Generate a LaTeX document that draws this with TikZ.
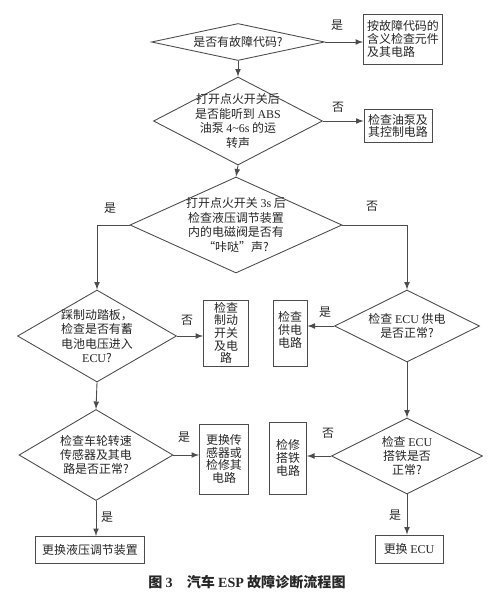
\documentclass[tikz,border=0pt]{standalone}
\usepackage{fontspec}
\setmainfont{Noto Sans CJK SC}
\newfontfamily\lat{Liberation Serif}
\usepackage{tikz}
\usetikzlibrary{shapes.geometric}

\begin{document}
\begin{tikzpicture}[x=0.2mm, y=-0.2mm, >=latex,
    every node/.style={font=\fontsize{6.8}{8.2}\selectfont, text=black!85},
    decide/.style={diamond, draw=black!70, line width=0.5pt, inner sep=0pt},
    act/.style={rectangle, draw=black!70, line width=0.5pt, align=center, inner sep=1pt,
        font=\fontsize{6.8}{7.2}\selectfont},
    ans/.style={inner sep=0pt},
    flow/.style={->, draw=black!70, line width=0.5pt}]
                \useasboundingbox (0, 0) rectangle (500, 597);
                % decisions
                \node[decide, minimum width=34.6mm, minimum height=7.4mm,
                    label={center:是否有故障代码?}] (code) at (238, 42) {};
                \node[decide, minimum width=33.8mm, minimum height=17.6mm,
                    label={[align=center]center:打开点火开关后\\是否能听到 {\lat ABS}\\油泵 {\lat 4\textasciitilde 6s} 的运\\转声}] (pump) at (238, 121) {};
                \node[decide, minimum width=42.4mm, minimum height=19.2mm,
                    label={[align=center]center:打开点火开关 {\lat 3s} 后\\检查液压调节装置\\内的电磁阀是否有\\“咔哒”声?}] (valve) at (236, 225) {};
                \node[decide, minimum width=31.8mm, minimum height=18.4mm,
                    label={[align=center]center:踩制动踏板，\\检查是否有蓄\\电池电压进入\\{\lat ECU}?}] (brake) at (97, 336) {};
                \node[decide, minimum width=29mm, minimum height=14.4mm,
                    label={[align=center]center:检查 {\lat ECU} 供电\\是否正常?}] (supply) at (407, 326) {};
                \node[decide, minimum width=30.8mm, minimum height=18.2mm,
                    label={[align=center]center:检查车轮转速\\传感器及其电\\路是否正常?}] (wheel) at (96, 455) {};
                \node[decide, minimum width=30.2mm, minimum height=15.2mm,
                    label={[align=center]center:检查 {\lat ECU}\\搭铁是否\\正常?}] (ground) at (407, 456) {};
                % actions
                \node[act, align=left, minimum width=15.8mm, minimum height=10mm] (chkcode) at (403, 39) {按故障代码的\\含义检查元件\\及其电路};
                \node[act, align=left, minimum width=13.6mm, minimum height=6.6mm] (chkpump) at (398, 126) {检查油泵及\\其控制电路};
                \node[act, minimum width=9mm, minimum height=13.2mm] (chkbrake) at (226, 333) {检查\\制动\\开关\\及电\\路};
                \node[act, minimum width=6.8mm, minimum height=13.2mm,
                    label={[align=center, anchor=north, yshift=-1.2mm, font=\fontsize{6.8}{7.2}\selectfont]north:检查\\供电\\电路}] (chksupply) at (290, 333) {};
                \node[act, minimum width=9.8mm, minimum height=14mm] (newsensor) at (224, 459) {更换传\\感器或\\检修其\\电路};
                \node[act, minimum width=7.4mm, minimum height=14.4mm,
                    label={[align=center, anchor=north, yshift=-2.4mm, font=\fontsize{6.8}{7.2}\selectfont]north:检修\\搭铁\\电路}] (fixground) at (288, 458) {};
                \node[act, minimum width=21.8mm, minimum height=5.4mm] (newunit) at (90, 550) {更换液压调节装置};
                \node[act, minimum width=13.6mm, minimum height=5.6mm] (newecu) at (409, 549) {更换 {\lat ECU}};
                % flow
                \draw[flow] (code.east) -- (code.east -| chkcode.west);
                \draw[flow] (code.south) -- (pump.north);
                \draw[flow] (pump.east) -- (pump.east -| chkpump.west);
                \draw[flow] (pump.south) -- (valve.north);
                \draw[flow] (valve.west) -| (brake.north);
                \draw[flow] (valve.east) -| (supply.north);
                \draw[flow] (brake.east) -- (brake.east -| chkbrake.west);
                \draw[flow] (supply.west) -- (supply.west -| chksupply.east);
                \draw[flow] (brake.south) -- (wheel.north);
                \draw[flow] (supply.south) -- (ground.north);
                \draw[flow] (wheel.east) -- (wheel.east -| newsensor.west);
                \draw[flow] (ground.west) -- (ground.west -| fixground.east);
                \draw[flow] (wheel.south) -- (wheel.south |- newunit.north);
                \draw[flow] (ground.south) -- (ground.south |- newecu.north);
                % answers
                \node[ans] (y1) at (337, 25) {是};
                \node[ans] (n1) at (338, 107) {否};
                \node[ans] (y2) at (110, 208) {是};
                \node[ans] (n2) at (372, 206) {否};
                \node[ans] (n3) at (187, 320) {否};
                \node[ans] (y3) at (325, 312) {是};
                \node[ans] (y4) at (184, 437) {是};
                \node[ans] (n4) at (328, 433) {否};
                \node[ans] (y5) at (107, 517) {是};
                \node[ans] (y6) at (395, 515) {是};
                \node (title) at (247, 582) {\fontsize{8}{9}\selectfont\bfseries 图 {\lat 3}\quad 汽车 {\lat ESP} 故障诊断流程图};
            \end{tikzpicture}
\end{document}
